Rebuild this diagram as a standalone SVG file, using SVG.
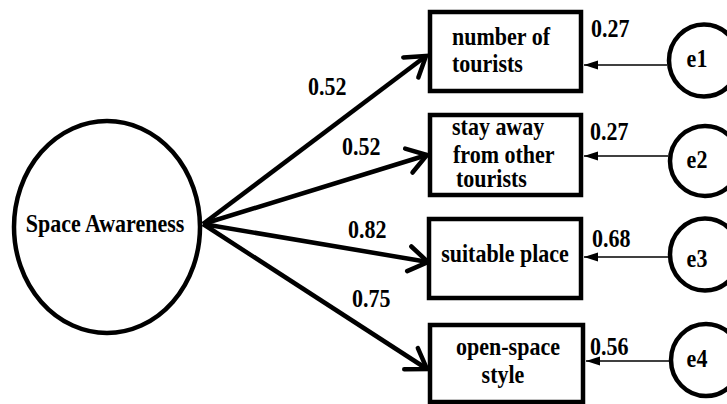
<svg xmlns="http://www.w3.org/2000/svg" width="727" height="404" viewBox="0 0 727 404">
<defs>
<style>
text{font-family:"Liberation Serif","Times New Roman",serif;font-weight:bold;font-size:22px;fill:#000}
.box{fill:#fff;stroke:#000;stroke-width:4.5}
.circ{fill:#fff;stroke:#000;stroke-width:4.5}
.main{stroke:#000;stroke-width:4.5;fill:none}
.err{stroke:#000;stroke-width:1.5;fill:none}
.mid{text-anchor:middle}
</style>
<marker id="open" markerUnits="userSpaceOnUse" viewBox="-24 -16 28 32" refX="0" refY="0" markerWidth="28" markerHeight="32" orient="auto" overflow="visible">
<path d="M-19,-12.5 L0,0 L-19,12.5" fill="none" stroke="#000" stroke-width="4.5" stroke-linecap="round" stroke-linejoin="miter"/>
</marker>
<marker id="solid" markerUnits="userSpaceOnUse" viewBox="-16 -6 18 12" refX="0" refY="0" markerWidth="18" markerHeight="12" orient="auto" overflow="visible">
<path d="M-14,-4.5 L0,0 L-14,4.5 Z" fill="#000"/>
</marker>
</defs>
<rect width="727" height="404" fill="#fff"/>
<g id="connectors">
<line class="main" x1="203" y1="224" x2="426" y2="56" marker-end="url(#open)"/>
<line class="main" x1="203" y1="224" x2="427" y2="155" marker-end="url(#open)"/>
<line class="main" x1="203" y1="224" x2="428" y2="262" marker-end="url(#open)"/>
<line class="main" x1="203" y1="224" x2="427" y2="369" marker-end="url(#open)"/>
<line class="err" x1="667" y1="65" x2="584" y2="65" marker-end="url(#solid)"/>
<line class="err" x1="668" y1="156" x2="584" y2="156" marker-end="url(#solid)"/>
<line class="err" x1="668" y1="257" x2="584" y2="257" marker-end="url(#solid)"/>
<line class="err" x1="669" y1="361" x2="586" y2="361" marker-end="url(#solid)"/>
<text transform="translate(308,95) scale(1,1.17)">0.52</text>
<text transform="translate(342,155) scale(1,1.17)">0.52</text>
<text transform="translate(348,238) scale(1,1.17)">0.82</text>
<text transform="translate(352,307) scale(1,1.17)">0.75</text>
<text transform="translate(591,37) scale(1,1.17)">0.27</text>
<text transform="translate(590,140) scale(1,1.17)">0.27</text>
<text transform="translate(592,247) scale(1,1.17)">0.68</text>
<text transform="translate(590,355) scale(1,1.17)">0.56</text>
</g>
<g id="space-awareness">
<ellipse class="circ" cx="107" cy="227" rx="93" ry="106"/>
<text class="mid" transform="translate(105,232) scale(1,1.17)">Space Awareness</text>
</g>
<g id="number-of-tourists">
<rect class="box" x="430" y="12" width="151" height="79"/>
<text transform="translate(452,45) scale(1,1.17)">number of</text>
<text transform="translate(452,72) scale(1,1.17)">tourists</text>
</g>
<g id="stay-away">
<rect class="box" x="430" y="115" width="151" height="80"/>
<text transform="translate(452,135) scale(1,1.17)">stay away</text>
<text transform="translate(453,163) scale(1,1.17)">from other</text>
<text transform="translate(456,187) scale(1,1.17)">tourists</text>
</g>
<g id="suitable-place">
<rect class="box" x="429" y="219" width="152" height="79"/>
<text class="mid" transform="translate(505,262) scale(1,1.17)">suitable place</text>
</g>
<g id="open-space-style">
<rect class="box" x="430" y="325" width="153" height="77"/>
<text class="mid" transform="translate(508,355) scale(1,1.17)">open-space</text>
<text class="mid" transform="translate(503,383) scale(1,1.17)">style</text>
</g>
<g id="e1">
<ellipse class="circ" cx="704" cy="60.5" rx="35" ry="36"/>
<text class="mid" transform="translate(697,67) scale(1,1.17)">e1</text>
</g>
<g id="e2">
<ellipse class="circ" cx="705" cy="161" rx="35" ry="35"/>
<text class="mid" transform="translate(697,168) scale(1,1.17)">e2</text>
</g>
<g id="e3">
<ellipse class="circ" cx="705" cy="254.5" rx="35" ry="36"/>
<text class="mid" transform="translate(697,267) scale(1,1.17)">e3</text>
</g>
<g id="e4">
<ellipse class="circ" cx="706" cy="360" rx="35" ry="36"/>
<text class="mid" transform="translate(697,367) scale(1,1.17)">e4</text>
</g>
</svg>
